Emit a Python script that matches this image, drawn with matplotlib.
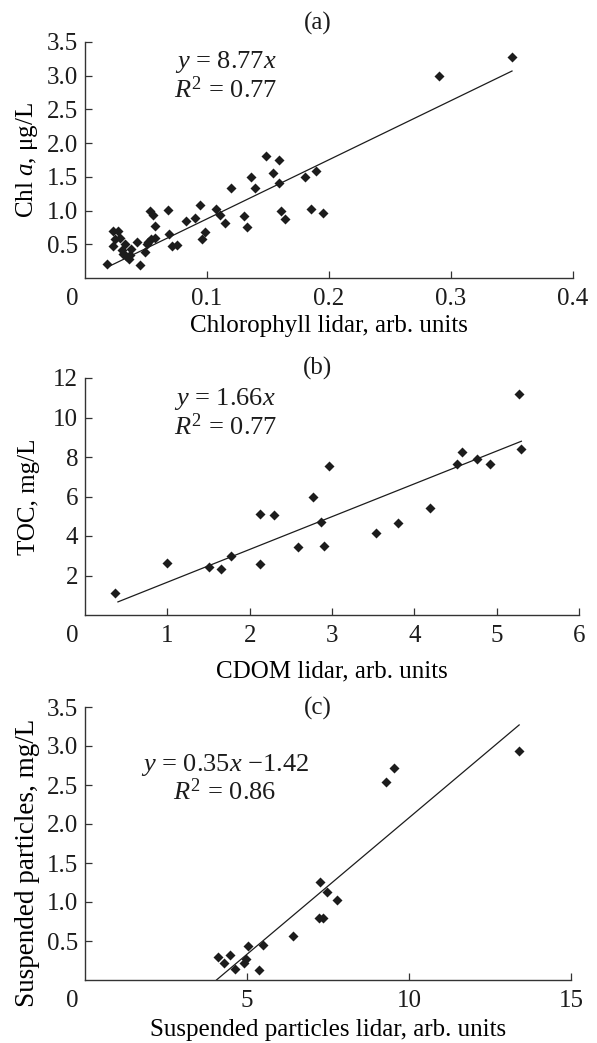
"""
Lidar vs. in-situ scatter plots: (a) chlorophyll, (b) CDOM/TOC, (c) suspended particles.
Saves out.png
"""
import matplotlib
matplotlib.use("Agg")
import matplotlib.pyplot as plt
from matplotlib.transforms import offset_copy
import numpy as np

# ---- data ----
# (a) Chl a vs chlorophyll lidar
chl_lidar = [0.018, 0.023, 0.023, 0.027, 0.025, 0.029, 0.033, 0.030, 0.031, 0.034,
             0.036, 0.038, 0.037, 0.043, 0.045, 0.049, 0.051, 0.052, 0.054, 0.057,
             0.053, 0.056, 0.057, 0.068, 0.069, 0.071, 0.075, 0.083, 0.090, 0.094,
             0.096, 0.098, 0.107, 0.111, 0.115, 0.120, 0.130, 0.133, 0.136, 0.139,
             0.148, 0.154, 0.159, 0.159, 0.161, 0.164, 0.180, 0.185, 0.189, 0.195,
             0.290, 0.350]
chl_a = [0.21, 0.47, 0.69, 0.70, 0.58, 0.59, 0.51, 0.42, 0.36, 0.32,
         0.28, 0.43, 0.34, 0.54, 0.20, 0.39, 0.51, 0.54, 0.58, 0.59,
         0.99, 0.94, 0.77, 1.01, 0.65, 0.47, 0.49, 0.84, 0.89, 1.08,
         0.58, 0.68, 1.02, 0.94, 0.81, 1.33, 0.92, 0.75, 1.50, 1.33,
         1.81, 1.56, 1.75, 1.41, 0.99, 0.88, 1.50, 1.02, 1.58, 0.96,
         2.99, 3.28]

# (b) TOC vs CDOM lidar
cdom_lidar = [0.37, 1.00, 1.50, 1.65, 1.77, 2.12, 2.13, 2.30, 2.59, 2.77, 2.87,
              2.90, 2.96, 3.53, 3.80, 4.19, 4.52, 4.58, 4.76, 4.92, 5.27, 5.30]
toc = [1.10, 2.62, 2.42, 2.32, 2.99, 2.57, 5.12, 5.05, 3.45, 5.97, 4.70,
       3.48, 7.52, 4.14, 4.68, 5.41, 7.64, 8.26, 7.91, 7.64, 11.19, 8.42]

# (c) suspended particles vs suspended particles lidar
sp_lidar = [4.10, 4.30, 4.47, 4.64, 4.90, 4.97, 5.03, 5.36, 5.49, 6.42,
            7.21, 7.36, 7.26, 7.47, 7.78, 9.29, 9.54, 13.38]
sp = [0.29, 0.22, 0.32, 0.14, 0.22, 0.27, 0.43, 0.13, 0.45, 0.56,
      0.80, 0.80, 1.26, 1.13, 1.03, 2.54, 2.72, 2.94]

# fits: slope, intercept, x range of drawn line
fit_slope = [8.77, 1.66, 0.35]
fit_icpt = [0.0, 0.0, -1.42]
fit_xrange = [(0.02, 0.35), (0.4, 5.3), (4.06, 13.4)]

panel_tags = ["(a)", "(b)", "(c)"]
eq_texts = [r"$y$ = 8.77$x$", r"$y$ = 1.66$x$", r"$y$ = 0.35$x$ $-$1.42"]
r2_texts = [r"$R^2$ = 0.77", r"$R^2$ = 0.77", r"$R^2$ = 0.86"]
xlabels = ["Chlorophyll lidar, arb. units", "CDOM lidar, arb. units",
           "Suspended particles lidar, arb. units"]
ylabels = [r"Chl $a$, μg/L", "TOC, mg/L", "Suspended particles, mg/L"]
xticks = [[0.1, 0.2, 0.3, 0.4], [1, 2, 3, 4, 5, 6], [5, 10, 15]]
xticklabels = [["0.1", "0.2", "0.3", "0.4"], ["1", "2", "3", "4", "5", "6"], ["5", "10", "15"]]
yticks = [[0.5, 1.0, 1.5, 2.0, 2.5, 3.0, 3.5], [2, 4, 6, 8, 10, 12],
          [0.5, 1.0, 1.5, 2.0, 2.5, 3.0, 3.5]]
yticklabels = [["0.5", "1.0", "1.5", "2.0", "2.5", "3.0", "3.5"],
               ["2", "4", "6", "8", "10", "12"],
               ["0.5", "1.0", "1.5", "2.0", "2.5", "3.0", "3.5"]]
xlims = [(0, 0.4), (0, 6), (0, 15)]
ylims = [(0, 3.5), (0, 12), (0, 3.5)]

# ---- style ----
INK = "#1c1c1c"
FS = 18
plt.rcParams["font.family"] = ["Liberation Serif", "DejaVu Serif"]
plt.rcParams["mathtext.fontset"] = "custom"
plt.rcParams["mathtext.rm"] = "Liberation Serif"
plt.rcParams["mathtext.it"] = "Liberation Serif:italic"
plt.rcParams["font.size"] = FS
plt.rcParams["text.color"] = INK

W, H = 597, 1043
fig = plt.figure(figsize=(W / 100, H / 100), dpi=100)

# axes boxes in pixels: left, right, top, bottom
boxes = [(85, 573, 42, 278), (85, 579, 378, 615), (85, 571, 707, 980)]
tag_y = [23, 368, 708]
ylabel_y = [0.5, 0.5, 0.43]
ylabel_fs = [FS, FS, 19.5]
xlabel_pad = [4, 10, 5]
eq_pos = [(0.288, 0.914, 0.80), (0.284, 0.913, 0.794), (0.288, 0.788, 0.689)]

xs = [chl_lidar, cdom_lidar, sp_lidar]
ys = [chl_a, toc, sp]

for i in range(3):
    l, r, t, b = boxes[i]
    ax = fig.add_axes([l / W, 1 - b / H, (r - l) / W, (b - t) / H])
    ax.scatter(xs[i], ys[i], marker="D", s=26, color=INK, linewidths=0, zorder=3)
    x0, x1 = fit_xrange[i]
    xl = np.array([x0, x1])
    ax.plot(xl, fit_slope[i] * xl + fit_icpt[i], color=INK, lw=0.9)

    ax.set_xlim(*xlims[i])
    ax.set_ylim(*ylims[i])
    ax.set_xticks(xticks[i])
    ax.set_xticklabels(xticklabels[i])
    ax.set_yticks(yticks[i])
    ax.set_yticklabels(yticklabels[i])
    for side in ("top", "right"):
        ax.spines[side].set_visible(False)
    for side in ("left", "bottom"):
        ax.spines[side].set_color("#333333")
        ax.spines[side].set_linewidth(1.0)
    ax.tick_params(direction="in", length=5, width=0.9, color="#333333",
                   labelsize=FS, labelcolor=INK)
    ax.tick_params(axis="x", pad=7)
    ax.tick_params(axis="y", pad=5)

    # lone "0" at the origin corner
    tr = offset_copy(ax.transAxes, fig=fig, x=-13, y=-10, units="dots")
    ax.text(0, 0, "0", transform=tr, ha="center", va="top", fontsize=FS)

    ax.set_xlabel(xlabels[i], fontsize=FS, labelpad=xlabel_pad[i])
    ax.set_ylabel(ylabels[i], fontsize=ylabel_fs[i])
    ax.yaxis.set_label_coords(-0.092, ylabel_y[i])

    ex, ey1, ey2 = eq_pos[i]
    ax.text(ex, ey1, eq_texts[i], transform=ax.transAxes, ha="center", va="center", fontsize=19)
    ax.text(ex, ey2, r2_texts[i], transform=ax.transAxes, ha="center", va="center", fontsize=19)

    fig.text(318 / W, 1 - tag_y[i] / H, panel_tags[i], ha="center", va="center", fontsize=FS)

fig.savefig("out.png", dpi=100)
plt.close(fig)
